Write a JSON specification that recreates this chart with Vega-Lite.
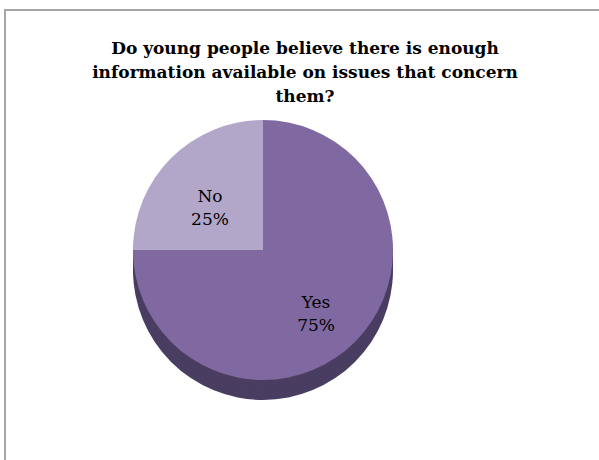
{
  "$schema": "https://vega.github.io/schema/vega-lite/v6.json",
  "autosize": "none",
  "width": 600,
  "height": 460,
  "padding": {"left": 5, "top": 10, "right": 0, "bottom": 0},
  "background": "white",
  "config": {"view": {"stroke": "#a6a6a6", "strokeWidth": 2}},
  "title": {
    "text": ["Do young people believe there is enough", "information available on issues that concern", "them?"],
    "font": "DejaVu Serif",
    "fontSize": 17,
    "fontWeight": "bold",
    "color": "#000000",
    "lineHeight": 24,
    "anchor": "middle",
    "baseline": "top",
    "offset": 0,
    "dy": 96
  },
  "data": {"values": [
    {"answer": "Yes", "share": 75, "label": "Yes\n75%"},
    {"answer": "No", "share": 25, "label": "No\n25%"}
  ]},
  "encoding": {
    "theta": {"field": "share", "type": "quantitative", "stack": true},
    "order": {"field": "share", "sort": "descending"},
    "x": {"datum": 0.43, "type": "quantitative", "scale": {"domain": [0, 1]}, "axis": null}
  },
  "resolve": {"scale": {"color": "independent"}},
  "layer": [
    {
      "mark": {"type": "arc", "outerRadius": 130},
      "encoding": {
        "y": {"datum": 0.4348, "type": "quantitative", "scale": {"domain": [0, 1]}, "axis": null},
        "color": {"field": "answer", "type": "nominal", "scale": {"domain": ["Yes", "No"], "range": ["#4a3d62", "#8c7ea6"]}, "legend": null}
      }
    },
    {
      "mark": {"type": "arc", "outerRadius": 130},
      "encoding": {
        "y": {"datum": 0.4457, "type": "quantitative", "scale": {"domain": [0, 1]}, "axis": null},
        "color": {"field": "answer", "type": "nominal", "scale": {"domain": ["Yes", "No"], "range": ["#4a3d62", "#8c7ea6"]}, "legend": null}
      }
    },
    {
      "mark": {"type": "arc", "outerRadius": 130},
      "encoding": {
        "y": {"datum": 0.4565, "type": "quantitative", "scale": {"domain": [0, 1]}, "axis": null},
        "color": {"field": "answer", "type": "nominal", "scale": {"domain": ["Yes", "No"], "range": ["#4a3d62", "#8c7ea6"]}, "legend": null}
      }
    },
    {
      "mark": {"type": "arc", "outerRadius": 130},
      "encoding": {
        "y": {"datum": 0.4674, "type": "quantitative", "scale": {"domain": [0, 1]}, "axis": null},
        "color": {"field": "answer", "type": "nominal", "scale": {"domain": ["Yes", "No"], "range": ["#4a3d62", "#8c7ea6"]}, "legend": null}
      }
    },
    {
      "mark": {"type": "arc", "outerRadius": 130},
      "encoding": {
        "y": {"datum": 0.4783, "type": "quantitative", "scale": {"domain": [0, 1]}, "axis": null},
        "color": {"field": "answer", "type": "nominal", "scale": {"domain": ["Yes", "No"], "range": ["#8069a0", "#b3a7c9"]}, "legend": null}
      }
    },
    {
      "mark": {"type": "text", "radius": 75, "font": "DejaVu Serif", "fontSize": 17, "lineHeight": 23, "lineBreak": "\n", "color": "#000000", "baseline": "middle"},
      "encoding": {
        "y": {"datum": 0.4783, "type": "quantitative", "scale": {"domain": [0, 1]}, "axis": null},
        "text": {"field": "label"}
      }
    }
  ]
}
